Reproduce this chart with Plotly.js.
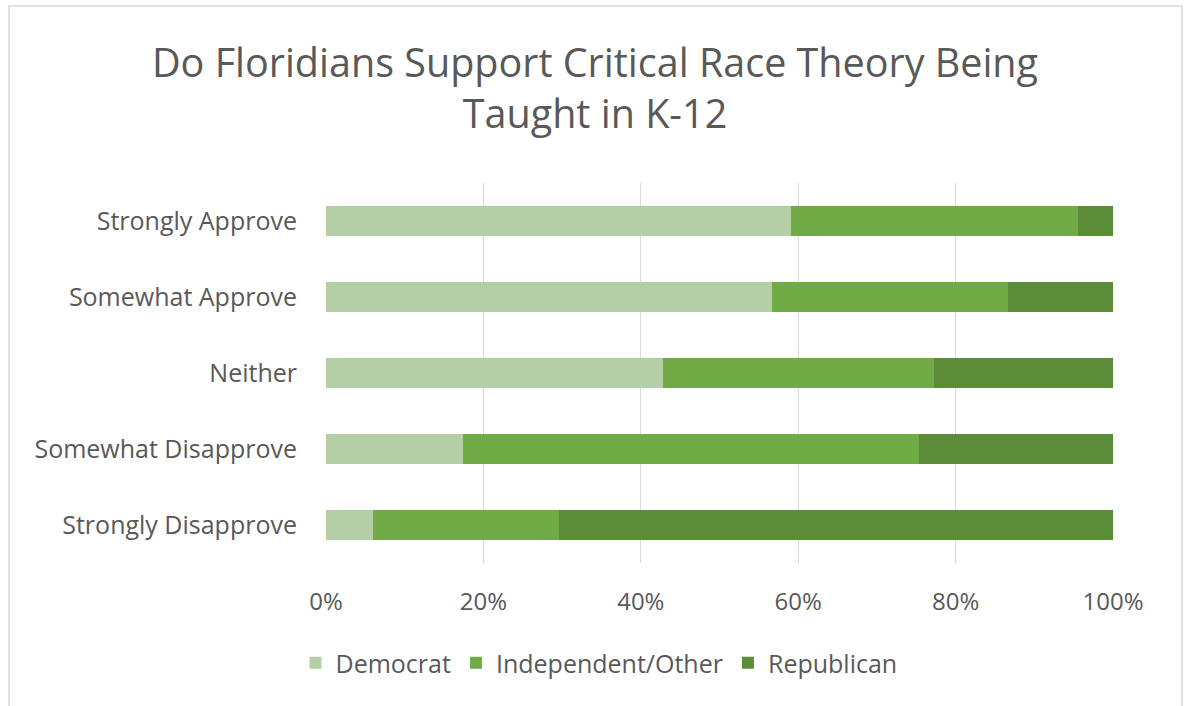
<!DOCTYPE html>
<html>
<head>
<meta charset="utf-8">
<script src="https://cdn.plot.ly/plotly-3.0.1.min.js"></script>
<style>
  html, body { margin: 0; padding: 0; background: #ffffff; }
  #chart { width: 1189px; height: 706px; }
</style>
</head>
<body>
<div id="chart"></div>
<script>
// Survey responses, share of each answer by party (percent)
const answers = ["Strongly Approve", "Somewhat Approve", "Neither", "Somewhat Disapprove", "Strongly Disapprove"];
const democrat = [59.1, 56.7, 42.8, 17.4, 6.0];
const independent = [36.5, 29.9, 34.4, 57.9, 23.6];
const republican = [4.4, 13.4, 22.8, 24.7, 70.4];
const xTickVals = [0, 20, 40, 60, 80, 100];
const xTickText = ["0%", "20%", "40%", "60%", "80%", "100%"];

const FONT = "Open Sans, Noto Sans, sans-serif";
const GREY = "#595959";

function series(name, values, color) {
  return {
    type: "bar",
    orientation: "h",
    name: name,
    y: answers,
    x: values,
    marker: { color: color, line: { width: 0 } },
    hoverinfo: "name+x"
  };
}

const data = [
  series("Democrat", democrat, "#b4cea6"),
  series("Independent/Other", independent, "#70ab46"),
  series("Republican", republican, "#5b8d39")
];

// plot area in pixels: left 326, right 1113, top 183, bottom 563
const L = 326, R = 1113, T = 183, B = 563;
const px = v => (v - L) / (R - L);
const py = v => (B - v) / (B - T);

const layout = {
  width: 1189,
  height: 706,
  margin: { l: L, r: 1189 - R, t: T, b: 706 - B, pad: 0 },
  paper_bgcolor: "#ffffff",
  plot_bgcolor: "#ffffff",
  barmode: "stack",
  bargap: 0.615,
  font: { family: FONT, color: GREY, size: 25 },
  title: {
    text: "Do Floridians Support Critical Race Theory Being<br>Taught in K-12",
    font: { family: FONT, size: 39.5, color: GREY },
    x: 595 / 1189, xref: "container", xanchor: "center",
    y: 1 - 77 / 706, yref: "container", yanchor: "middle"
  },
  xaxis: {
    range: [0, 100],
    tickvals: xTickVals,
    ticktext: xTickText,
    showgrid: true,
    gridcolor: "#d9d9d9",
    gridwidth: 1,
    zeroline: false,
    showline: false,
    ticks: "",
    ticklabelstandoff: 22,
    tickfont: { family: FONT, size: 24, color: GREY },
    fixedrange: true
  },
  yaxis: {
    categoryorder: "array",
    categoryarray: answers.slice().reverse(),
    showgrid: false,
    zeroline: false,
    showline: false,
    ticks: "",
    ticklabelstandoff: 28,
    tickfont: { family: FONT, size: 25, color: GREY },
    fixedrange: true
  },
  showlegend: true,
  legend: {
    orientation: "h",
    traceorder: "normal",
    x: px(599), xanchor: "center",
    y: py(663), yanchor: "middle",
    font: { family: FONT, size: 25, color: GREY },
    bgcolor: "rgba(0,0,0,0)"
  },
  shapes: [
    {
      type: "rect", xref: "paper", yref: "paper",
      x0: px(9), x1: px(1182), y0: py(720), y1: py(6),
      line: { color: "#d9d9d9", width: 1.5 },
      fillcolor: "rgba(0,0,0,0)",
      layer: "below"
    }
  ]
};

Plotly.newPlot("chart", data, layout, { displayModeBar: false, staticPlot: true });
</script>
</body>
</html>
